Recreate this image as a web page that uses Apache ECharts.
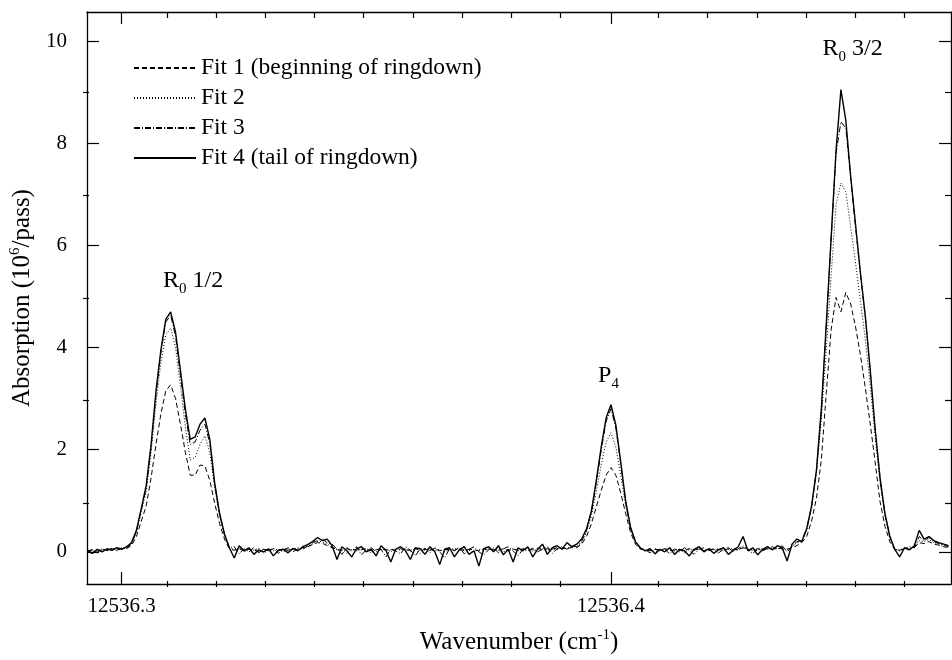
<!DOCTYPE html>
<html>
<head>
<meta charset="utf-8">
<script src="https://cdn.jsdelivr.net/npm/echarts@6/dist/echarts.min.js"></script>
<style>
html,body{margin:0;padding:0;background:#fff;}
#chart{width:952px;height:660px;}
</style>
</head>
<body>
<div id="chart"></div>
<script>
// ---- data ----
const wavenumberStart = 12536.293;
const wavenumberStep = 0.001;

const seriesNames = ['Fit 1 (beginning of ringdown)', 'Fit 2', 'Fit 3', 'Fit 4 (tail of ringdown)'];

const fit1 = [
 0.02,0.04,0.01,0.05,0.03,0.06,0.04,0.06,0.07,0.12,
 0.3,0.6,0.9,1.45,2.1,2.7,3.15,3.27,3.0,2.5,
 1.95,1.5,1.5,1.7,1.68,1.4,0.95,0.55,0.25,0.06,
 0.03,0.06,0.02,0.05,0.04,0.0,0.05,0.03,0.06,0.02,
 0.05,0.03,0.06,0.04,0.08,0.1,0.14,0.18,0.17,0.12,
 0.08,0.05,0.02,0.06,0.03,0.05,0.04,0.07,0.02,0.04,
 0.06,0.03,0.05,0.02,0.06,0.04,0.03,0.07,0.02,0.05,
 0.03,0.06,0.02,0.04,0.05,0.03,0.07,0.02,0.05,0.04,
 0.02,0.06,0.04,0.05,0.03,0.06,0.02,0.05,0.04,0.06,
 0.03,0.05,0.07,0.04,0.06,0.05,0.08,0.06,0.07,0.08,
 0.08,0.15,0.3,0.55,0.88,1.2,1.5,1.65,1.5,1.15,
 0.75,0.38,0.15,0.05,0.04,0.02,0.05,0.03,0.06,0.04,
 0.02,0.05,0.03,0.06,0.04,0.05,0.02,0.06,0.04,0.05,
 0.03,0.06,0.04,0.05,0.08,0.05,0.03,0.06,0.04,0.07,
 0.05,0.07,0.06,0.05,0.08,0.12,0.18,0.3,0.6,1.05,
 1.8,3.1,4.35,4.98,4.7,5.08,4.85,4.4,3.85,3.2,
 2.5,1.75,0.98,0.5,0.2,0.04,0.03,0.06,0.05,0.08,
 0.18,0.16,0.2,0.15,0.13,0.1,0.08
];

const fit2 = [
 0.03,0.0,0.05,0.02,0.04,0.06,0.02,0.07,0.08,0.15,
 0.38,0.78,1.18,1.95,2.9,3.7,4.25,4.38,4.0,3.25,
 2.45,1.8,1.85,2.1,2.27,1.95,1.25,0.7,0.32,0.07,
 0.04,0.08,0.0,0.05,0.03,0.07,-0.03,0.04,0.02,0.06,
 0.0,0.05,0.04,0.08,0.06,0.1,0.16,0.2,0.2,0.15,
 0.1,0.04,0.06,-0.03,0.05,0.02,0.07,0.03,-0.02,0.05,
 0.04,0.06,0.0,0.07,0.03,0.05,0.01,0.06,-0.04,0.04,
 0.06,0.02,0.05,0.0,0.04,0.07,0.02,0.05,0.03,-0.02,
 0.05,0.03,0.06,0.02,0.07,0.0,0.04,0.06,0.02,0.05,
 0.07,0.01,0.05,0.08,0.03,0.06,0.04,0.09,0.06,0.1,
 0.1,0.18,0.38,0.7,1.18,1.7,2.15,2.33,2.05,1.5,
 0.9,0.45,0.18,0.06,0.03,0.05,0.0,0.04,0.06,0.02,
 0.04,0.05,-0.02,0.06,0.03,0.07,0.02,0.05,0.04,0.06,
 0.02,0.05,0.07,0.03,0.08,0.04,0.06,0.02,0.07,0.05,
 0.06,0.08,0.04,0.05,0.1,0.18,0.2,0.42,0.85,1.55,
 2.6,3.95,5.4,6.8,7.22,7.05,6.35,5.65,4.9,4.15,
 3.25,2.25,1.35,0.7,0.28,0.05,0.04,0.07,0.06,0.1,
 0.22,0.2,0.24,0.18,0.15,0.12,0.1
];

const fit3 = [
 0.0,0.04,-0.02,0.06,0.02,0.07,0.03,0.08,0.06,0.17,
 0.4,0.82,1.25,2.05,3.08,3.9,4.5,4.63,4.22,3.45,
 2.7,2.1,2.15,2.38,2.5,2.12,1.32,0.74,0.34,0.08,
 0.1,-0.04,0.06,0.0,0.08,-0.02,0.05,0.02,0.07,-0.03,
 0.04,0.08,0.0,0.06,0.05,0.12,0.18,0.22,0.25,0.18,
 0.15,0.05,-0.05,0.08,0.02,0.1,-0.06,0.04,0.08,0.0,
 0.05,-0.1,0.06,0.02,-0.04,0.1,0.03,-0.08,0.05,0.07,
 -0.02,0.08,0.0,-0.12,0.06,0.02,0.09,-0.04,0.05,0.1,
 0.0,-0.06,0.04,0.08,-0.02,0.06,0.1,0.02,-0.08,0.05,
 0.02,0.07,0.0,0.05,0.1,-0.03,0.06,0.1,0.05,0.12,
 0.1,0.2,0.42,0.78,1.35,1.98,2.55,2.8,2.42,1.72,
 0.98,0.47,0.2,0.07,0.04,-0.02,0.06,0.02,0.05,-0.04,
 0.06,0.0,0.08,0.03,-0.05,0.05,0.08,0.02,0.06,-0.02,
 0.05,0.08,0.0,0.06,0.12,0.05,-0.04,0.08,0.02,0.06,
 0.1,0.05,0.12,0.0,0.1,0.2,0.22,0.45,0.88,1.58,
 2.75,4.4,6.1,7.8,8.42,8.3,7.3,6.35,5.42,4.58,
 3.52,2.4,1.42,0.74,0.3,0.05,0.02,0.06,0.1,0.08,
 0.3,0.22,0.28,0.2,0.16,0.14,0.1
];

const fit4 = [
 0.02,-0.03,0.05,0.0,0.06,0.03,0.08,0.05,0.1,0.18,
 0.42,0.85,1.3,2.1,3.15,3.95,4.55,4.7,4.3,3.55,
 2.8,2.2,2.25,2.5,2.62,2.2,1.35,0.75,0.35,0.08,
 -0.12,0.12,0.02,0.08,-0.05,0.04,0.0,0.06,-0.08,0.03,
 0.05,-0.02,0.07,0.02,0.1,0.14,0.2,0.28,0.22,0.25,
 0.12,-0.15,0.1,0.02,-0.1,0.06,0.1,0.0,0.05,-0.08,
 0.12,0.03,-0.2,0.05,0.1,0.02,-0.15,0.08,0.06,-0.05,
 0.1,0.0,-0.25,0.05,0.08,-0.1,0.04,0.1,-0.05,0.02,
 -0.28,0.06,0.1,0.0,0.12,-0.06,0.05,-0.2,0.08,0.02,
 0.1,-0.1,0.05,0.15,-0.05,0.08,0.12,0.05,0.18,0.1,
 0.15,0.25,0.45,0.8,1.4,2.05,2.62,2.88,2.48,1.75,
 1.0,0.48,0.2,0.08,0.02,0.06,-0.04,0.05,0.0,0.08,
 -0.05,0.04,0.02,-0.08,0.05,0.1,0.0,0.06,-0.03,0.04,
 0.08,-0.05,0.03,0.1,0.3,0.02,0.08,-0.06,0.05,0.1,
 0.04,0.12,0.08,-0.18,0.15,0.25,0.2,0.45,0.9,1.6,
 2.8,4.45,6.15,7.85,9.05,8.45,7.35,6.4,5.45,4.6,
 3.55,2.4,1.45,0.75,0.3,0.05,-0.1,0.08,0.04,0.12,
 0.42,0.25,0.3,0.22,0.18,0.15,0.12
];

const xMin = 12536.2929, xMax = 12536.4695;
const yMin = -0.63, yMax = 10.57;
const xTickLabels = [12536.3, 12536.4];
const xMajorTicks = [12536.3, 12536.4];
const xMinorTicks = [12536.31,12536.32,12536.33,12536.34,12536.35,12536.36,12536.37,12536.38,12536.39,12536.41,12536.42,12536.43,12536.44,12536.45,12536.46];
const yTickLabels = [0, 2, 4, 6, 8, 10];
const yMinorTicks = [1, 3, 5, 7, 9];

const annotationText = ['R{sub|0} 1/2', 'P{sub|4}', 'R{sub|0} 3/2'];
const annotationX = [12536.3146, 12536.3995, 12536.4494];
const annotationY = [5.3, 3.45, 9.85];

// ---- chart ----
const FONT = "'Liberation Serif','Times New Roman',serif";
const wavenumber = fit4.map((_, i) => +(wavenumberStart + i * wavenumberStep).toFixed(3));
const pairs = arr => arr.map((v, i) => [wavenumber[i], v]);

const lineTypes = [[5, 3], [1, 2], [6, 2, 1, 2], 'solid'];
const lineWidths = [1, 1, 1, 1.4];
const fits = [fit1, fit2, fit3, fit4];

const chart = echarts.init(document.getElementById('chart'), null, {renderer: 'canvas'});

const axisLineStyle = {show: true, onZero: false, lineStyle: {color: '#000', width: 1.3}};
function xAx(gridIndex, position, ticks, len, extra) {
  return Object.assign({
    type: 'value', gridIndex, position, min: xMin, max: xMax,
    axisLine: gridIndex === 0 ? axisLineStyle : {show: false, onZero: false},
    axisTick: {show: true, inside: true, length: len, customValues: ticks, lineStyle: {color: '#000', width: 1.2}},
    axisLabel: {show: false},
    splitLine: {show: false}
  }, extra || {});
}
function yAx(gridIndex, position, ticks, len, extra) {
  return Object.assign({
    type: 'value', gridIndex, position, min: yMin, max: yMax,
    axisLine: gridIndex === 0 ? axisLineStyle : {show: false, onZero: false},
    axisTick: {show: true, inside: true, length: len, customValues: ticks, lineStyle: {color: '#000', width: 1.2}},
    axisLabel: {show: false},
    splitLine: {show: false}
  }, extra || {});
}

const gridRect = {left: 83, right: 1, top: 12, bottom: 73};

const option = {
  animation: false,
  backgroundColor: '#fff',
  textStyle: {fontFamily: FONT, color: '#000'},
  grid: [Object.assign({}, gridRect), Object.assign({}, gridRect)],
  legend: {
    data: seriesNames,
    orient: 'vertical',
    left: 128, top: 51,
    itemWidth: 62, itemHeight: 14, itemGap: 6,
    itemStyle: {opacity: 0, color: 'rgba(0,0,0,0)', borderWidth: 0},
    textStyle: {fontFamily: FONT, fontSize: 23.5, lineHeight: 24, color: '#000'}
  },
  xAxis: [
    xAx(0, 'bottom', xMajorTicks, 12, {
      axisLabel: {show: true, customValues: xTickLabels, formatter: v => v.toFixed(1), fontFamily: FONT, fontSize: 21, color: '#000', margin: 12},
      name: 'Wavenumber (cm{sup|-1})', nameLocation: 'middle', nameGap: 44,
      nameTextStyle: {fontFamily: FONT, fontSize: 25, color: '#000', rich: {sup: {fontFamily: FONT, fontSize: 15, padding: [0, 0, 14, 0]}}}
    }),
    xAx(0, 'top', xMajorTicks, 12),
    xAx(1, 'bottom', xMinorTicks, 6),
    xAx(1, 'top', xMinorTicks, 6)
  ],
  yAxis: [
    yAx(0, 'left', yTickLabels, 12, {
      axisLabel: {show: true, customValues: yTickLabels, fontFamily: FONT, fontSize: 21, color: '#000', margin: 20},
      name: 'Absorption (10{sup|6}/pass)', nameLocation: 'middle', nameGap: 50, nameRotate: 90,
      nameTextStyle: {fontFamily: FONT, fontSize: 25, color: '#000', rich: {sup: {fontFamily: FONT, fontSize: 15, padding: [0, 0, 14, 0]}}}
    }),
    yAx(0, 'right', yTickLabels, 12),
    yAx(1, 'left', yMinorTicks, 6),
    yAx(1, 'right', yMinorTicks, 6)
  ],
  series: fits.map((arr, k) => {
    const s = {
      name: seriesNames[k], type: 'line', xAxisIndex: 0, yAxisIndex: 0,
      data: pairs(arr), symbol: 'none', showSymbol: false, smooth: false,
      lineStyle: {color: '#000', width: lineWidths[k], type: lineTypes[k]},
      itemStyle: {color: '#000'},
      emphasis: {disabled: true}, z: 2 + k
    };
    if (k === 3) {
      s.markPoint = {
        symbol: 'circle', symbolSize: 0, silent: true,
        data: annotationText.map((t, j) => ({coord: [annotationX[j], annotationY[j]], value: t})),
        label: {
          show: true, position: 'inside', color: '#000', fontFamily: FONT, fontSize: 24,
          formatter: p => p.value,
          rich: {sub: {fontFamily: FONT, fontSize: 15, padding: [16, 0, 0, 0]}}
        }
      };
    }
    return s;
  })
};
chart.setOption(option);
</script>
</body>
</html>
